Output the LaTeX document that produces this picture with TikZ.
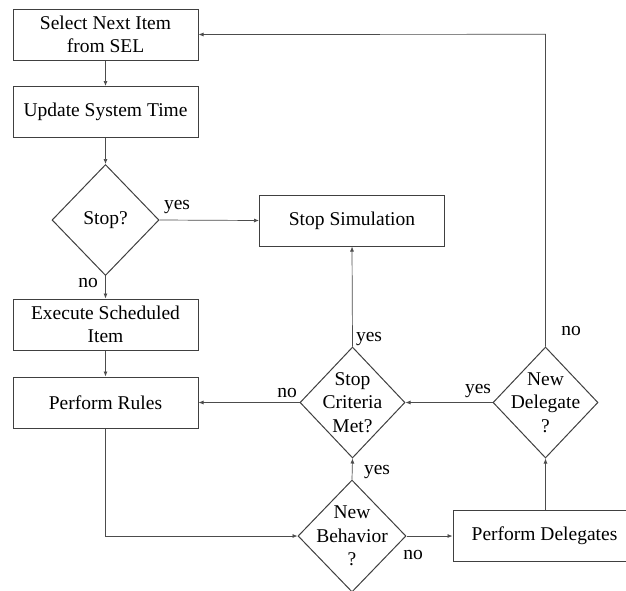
\documentclass[tikz,border=0pt]{standalone}
\usepackage{fontspec}
\setmainfont{Liberation Serif}
\usetikzlibrary{shapes.geometric,arrows.meta}
\begin{document}
\begin{tikzpicture}[x=1pt,y=-1pt,
  every node/.style={font=\fontsize{19.5}{23.5}\selectfont, text=black},
  box/.style={draw=black!75, line width=1pt, minimum width=185pt, minimum height=51pt, inner sep=0pt, align=center},
  dia/.style={draw=black!75, line width=1pt, diamond, minimum width=107pt, minimum height=111pt, inner sep=0pt},
  dtext/.style={align=center, inner sep=0pt},
  conn/.style={draw=black!70, line width=0.7pt, -{Latex[length=5pt,width=4pt]}},
  lbl/.style={inner sep=0pt}]
\useasboundingbox (0,0) rectangle (626,590);
\clip (0,0) rectangle (626,590);
\fill[white] (0,0) rectangle (626,590);

% boxes
\node[box] (sel) at (105.5,34.5) {Select Next Item\\from SEL};
\node[box] (upd) at (105.5,112) {Update System Time};
\node[box] (ss) at (352,220.5) {Stop Simulation};
\node[box] (exe) at (105.5,324.5) {Execute Scheduled\\Item};
\node[box] (pr) at (105.5,402.5) {Perform Rules};
\node[box, minimum width=183pt] (pd) at (544.5,536) {Perform Delegates};

% diamonds
\node[dia] (stop) at (105.5,220) {};
\node[dtext] at (stop) {Stop?};
\node[dia, minimum width=105pt] (sc) at (352.5,402.5) {};
\node[dtext] at (sc) {Stop\\Criteria\\Met?};
\node[dia, minimum width=105pt] (nd) at (545.5,402.5) {};
\node[dtext] at (nd) {New\\Delegate\\?};
\node[dia, minimum width=108pt, minimum height=112pt] (nb) at (352,536) {};
\node[dtext] at (nb) {New\\Behavior\\?};

\coordinate (tr) at (545.5,34.3);
\coordinate (bl) at (105.5,536);

% connectors
\draw[conn] (sel) -- (upd);
\draw[conn] (upd) -- (stop);
\draw[conn] (stop.east) -- (ss.west);
\draw[conn] (stop.south) -- (exe.north);
\draw[conn] (exe) -- (pr);
\draw[conn] (pr.south) -- (bl) -- (nb.west);
\draw[conn] (nb.north) -- (sc.south);
\draw[conn] (nb.east) -- (pd.west);
\draw[conn] (pd.north -| nd.south) -- (nd.south);
\draw[conn] (nd.west) -- (sc.east);
\draw[conn] (sc.west) -- (pr.east);
\draw[conn] (sc.north) -- (ss.south);
\draw[conn] (nd.north) -- (tr) -- (sel.east);

% labels
\node[lbl] (l1) at (177,207) {yes};
\node[lbl] (l2) at (88,283) {no};
\node[lbl] (l3) at (287,393) {no};
\node[lbl] (l4) at (369,339) {yes};
\node[lbl] (l5) at (478,391) {yes};
\node[lbl] (l6) at (571,331) {no};
\node[lbl] (l7) at (377,472) {yes};
\node[lbl] (l8) at (413,555) {no};
\end{tikzpicture}
\end{document}
